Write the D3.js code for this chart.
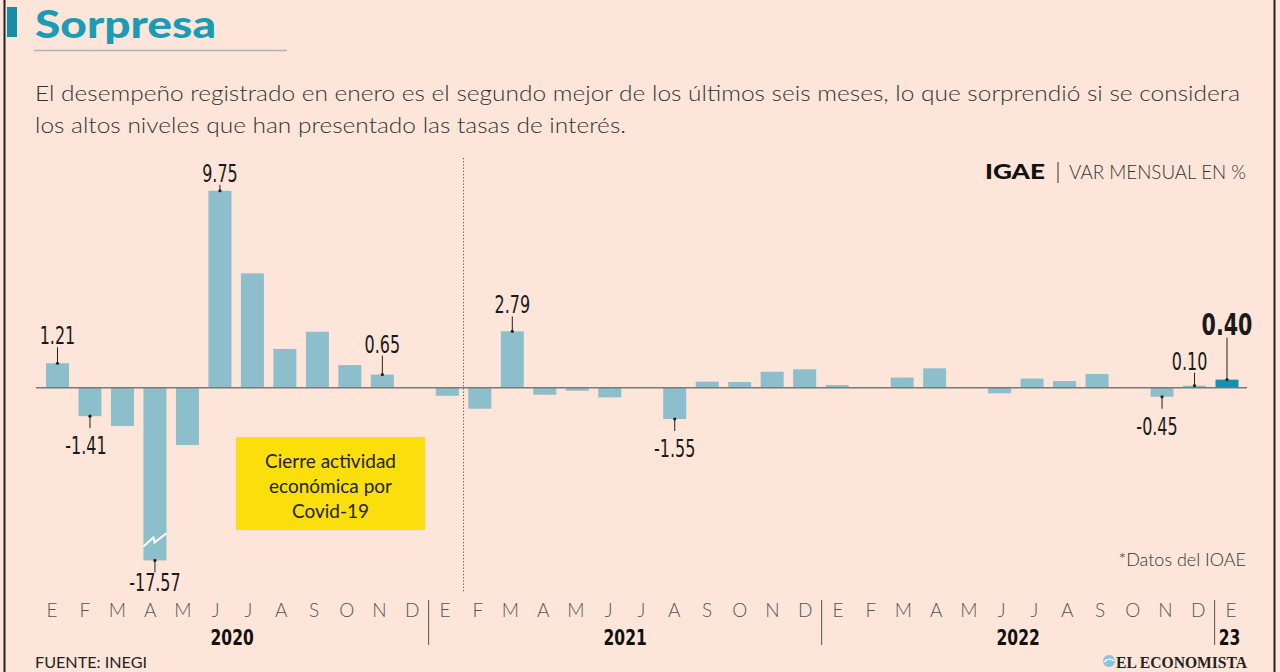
<!DOCTYPE html>
<html><head><meta charset="utf-8">
<script src="https://cdn.jsdelivr.net/npm/d3@7/dist/d3.min.js"></script>
<style>
html,body{margin:0;padding:0;background:#fde6d9;}
svg{display:block;}
</style></head>
<body>
<svg id="chart" width="1280" height="672"></svg>
<script>
// ---------- DATA ----------
const months = ["E","F","M","A","M","J","J","A","S","O","N","D",
                "E","F","M","A","M","J","J","A","S","O","N","D",
                "E","F","M","A","M","J","J","A","S","O","N","D",
                "E"];
const years = [
  {label:"2020", from:0, to:11},
  {label:"2021", from:12, to:23},
  {label:"2022", from:24, to:35}
];
const lastYearLabel = "23";
const values = [
  1.21, -1.41, -1.90, -17.57, -2.84, 9.75, 5.66, 1.92, 2.77, 1.12, 0.65, 0.00,
  -0.40, -1.04, 2.79, -0.35, -0.15, -0.48, 0.00, -1.55, 0.30, 0.28, 0.79, 0.91,
  0.13, 0.00, 0.50, 0.96, 0.03, -0.28, 0.45, 0.33, 0.68, 0.00, -0.45, 0.10,
  0.40
];
const labeledIdx = [0, 1, 3, 5, 10, 14, 19, 34, 35, 36];
const highlightIdx = 36;
const title = "Sorpresa";
const subtitle = [
  "El desempeño registrado en enero es el segundo mejor de los últimos seis meses, lo que sorprendió si se considera",
  "los altos niveles que han presentado las tasas de interés."
];
const boxText = ["Cierre actividad", "económica por", "Covid-19"];

// ---------- LAYOUT ----------
const svg = d3.select("#chart");
const W = 1280, H = 672;
const bg = "#fde6d9";
const barColor = "#8dbecb";
const hiColor = "#1590ae";
const teal = "#1a9bb6";
const numFont = "'DejaVu Sans Condensed','DejaVu Sans',sans-serif";
const bodyFont = "Lato,'Open Sans',sans-serif";
const breakFloor = -8.55; // visual truncation of the broken bar
const narrow = 0.74;      // horizontal squeeze for condensed numerals

svg.append("rect").attr("width", W).attr("height", H).attr("fill", bg);
// frame lines
svg.append("line").attr("x1",4.5).attr("x2",4.5).attr("y1",0).attr("y2",H).attr("stroke","#222").attr("stroke-width",2);
svg.append("line").attr("x1",1274.5).attr("x2",1274.5).attr("y1",0).attr("y2",H).attr("stroke","#222").attr("stroke-width",2);

// title
svg.append("rect").attr("x",7).attr("y",7).attr("width",10).attr("height",30).attr("fill","#178ea3");
svg.append("text").attr("x",35).attr("y",38).text(title)
  .attr("font-family",bodyFont).attr("font-weight",900).attr("font-size",37)
  .attr("fill",teal).attr("textLength",181).attr("lengthAdjust","spacingAndGlyphs");
svg.append("line").attr("x1",34).attr("x2",287).attr("y1",50.5).attr("y2",50.5).attr("stroke","#a9b7b6").attr("stroke-width",1.5);

// subtitle
const subW = [1205, 591];
subtitle.forEach((s,i)=>{
  svg.append("text").attr("x",35).attr("y",101 + i*32).text(s)
    .attr("font-family",bodyFont).attr("font-weight",300).attr("font-size",21)
    .attr("fill","#333").attr("textLength",subW[i]).attr("lengthAdjust","spacingAndGlyphs");
});

// unit label
svg.append("text").attr("x",985).attr("y",179).text("IGAE")
  .attr("font-family",bodyFont).attr("font-weight",900).attr("font-size",20).attr("fill","#111")
  .attr("textLength",60).attr("lengthAdjust","spacingAndGlyphs");
svg.append("line").attr("x1",1058).attr("x2",1058).attr("y1",162).attr("y2",183).attr("stroke","#333").attr("stroke-width",1);
svg.append("text").attr("x",1069).attr("y",179).text("VAR MENSUAL EN %")
  .attr("font-family",bodyFont).attr("font-weight",300).attr("font-size",19).attr("fill","#333")
  .attr("textLength",177).attr("lengthAdjust","spacingAndGlyphs");

// scales
const x = d3.scaleBand().domain(d3.range(values.length))
  .range([41.25, 1243.25]).paddingInner(0.292).paddingOuter(0.146);
const y = d3.scaleLinear().domain([-1, 1]).range([387.7 + 20.2, 387.7 - 20.2]);
const xl = d3.scalePoint().domain(d3.range(months.length)).range([52, 1231]);
const xc = i => x(i) + x.bandwidth()/2;
const shown = v => Math.max(v, breakFloor);

// dotted marker line
svg.append("line").attr("x1",463.5).attr("x2",463.5).attr("y1",158).attr("y2",592)
  .attr("stroke","#555").attr("stroke-width",1).attr("stroke-dasharray","1.2,2");

// yellow box
const bx = 236, by = 437, bw = 189, bh = 93;
svg.append("rect").attr("x",bx).attr("y",by).attr("width",bw).attr("height",bh).attr("fill","#fadf0c");
boxText.forEach((t,i)=>{
  svg.append("text").attr("x",bx+bw/2).attr("y",468 + i*25).attr("text-anchor","middle")
    .attr("font-family",bodyFont).attr("font-weight",400).attr("font-size",19).attr("fill","#222").text(t);
});

// bars
svg.append("g").selectAll("rect").data(values).join("rect")
  .attr("x",(d,i)=>x(i)).attr("width",x.bandwidth())
  .attr("y",d=>y(Math.max(0,shown(d))))
  .attr("height",d=>Math.abs(y(shown(d))-y(0)))
  .attr("fill",(d,i)=> i===highlightIdx ? hiColor : barColor);

// break mark on truncated bar
values.forEach((v,i)=>{
  if (v < breakFloor) {
    const x0 = x(i), x1 = x(i)+x.bandwidth(), yb = y(breakFloor);
    svg.append("path")
      .attr("d", `M${x0},${yb-14} L${x0+10},${yb-23} L${x0+11},${yb-18} L${x1},${yb-27}`)
      .attr("fill","none").attr("stroke","#fff").attr("stroke-width",2);
  }
});

// baseline
svg.append("line").attr("x1",36).attr("x2",1247).attr("y1",y(0)).attr("y2",y(0))
  .attr("stroke","#7a7a7a").attr("stroke-width",1.6);

// value labels
const aboveGap = {0:19, 5:9, 10:22, 14:18, 35:16, 36:45};
const labelDx = {1:-4, 34:-5, 35:-5};
labeledIdx.forEach(i=>{
  const v = values[i];
  const cx = xc(i);
  const bold = i===highlightIdx;
  const end = y(shown(v));
  let lineY1, lineY2, ty;
  if (v >= 0) {
    const g = aboveGap[i] || 18;
    ty = end - g;
    lineY1 = ty + 3; lineY2 = end;
  } else {
    lineY1 = end; lineY2 = end + 12;
    ty = end + (v < breakFloor ? 31 : 38);
  }
  svg.append("line").attr("x1",cx).attr("x2",cx).attr("y1",lineY1).attr("y2",lineY2)
    .attr("stroke","#222").attr("stroke-width",1);
  svg.append("circle").attr("cx",cx).attr("cy",end).attr("r",1.6).attr("fill","#222");
  svg.append("g").attr("transform",`translate(${cx + (labelDx[i]||0)},${ty}) scale(${narrow},1)`)
    .append("text").attr("text-anchor","middle")
    .attr("font-family",numFont).attr("font-weight",bold?700:400)
    .attr("font-size",bold?31:24).attr("fill","#1a1a1a")
    .text(v.toFixed(2));
});

// month labels
svg.append("g").selectAll("text").data(months).join("text")
  .attr("x",(d,i)=>xl(i)).attr("y",617).attr("text-anchor","middle")
  .attr("font-family",bodyFont).attr("font-weight",300).attr("font-size",19).attr("fill","#555")
  .text(d=>d);

// year separators
const step = xl.step();
years.forEach(yr=>{
  const sx = xl(yr.to) + step/2;
  svg.append("line").attr("x1",sx).attr("x2",sx).attr("y1",600).attr("y2",645)
    .attr("stroke","#555").attr("stroke-width",1);
  svg.append("g").attr("transform",`translate(${(xl(yr.from)+xl(yr.to))/2},645) scale(0.82,1)`)
    .append("text").attr("text-anchor","middle")
    .attr("font-family",numFont).attr("font-weight",700).attr("font-size",21).attr("fill","#111")
    .text(yr.label);
});
const lastSep = xl(months.length-1) - step/2;
svg.append("g").attr("transform",`translate(${lastSep+4},645) scale(0.82,1)`)
  .append("text")
  .attr("font-family",numFont).attr("font-weight",700).attr("font-size",21).attr("fill","#111")
  .text(lastYearLabel);

// notes
svg.append("text").attr("x",1246).attr("y",566).attr("text-anchor","end")
  .attr("font-family",bodyFont).attr("font-weight",300).attr("font-size",18).attr("fill","#333")
  .text("*Datos del IOAE");
svg.append("text").attr("x",35).attr("y",668)
  .attr("font-family",bodyFont).attr("font-weight",400).attr("font-size",16).attr("fill","#222")
  .attr("textLength",112).attr("lengthAdjust","spacingAndGlyphs")
  .text("FUENTE: INEGI");

// logo
svg.append("circle").attr("cx",1109).attr("cy",661).attr("r",6).attr("fill","#8cc3dc");
svg.append("path").attr("d","M1104,662 Q1109,657 1114,661").attr("stroke","#fff").attr("stroke-width",1.2).attr("fill","none");
svg.append("text").attr("x",1116).attr("y",668)
  .attr("font-family","'Liberation Serif','DejaVu Serif',serif").attr("font-weight",700)
  .attr("font-size",16).attr("fill","#222")
  .attr("textLength",131).attr("lengthAdjust","spacingAndGlyphs")
  .text("EL ECONOMISTA");
</script>
</body></html>
